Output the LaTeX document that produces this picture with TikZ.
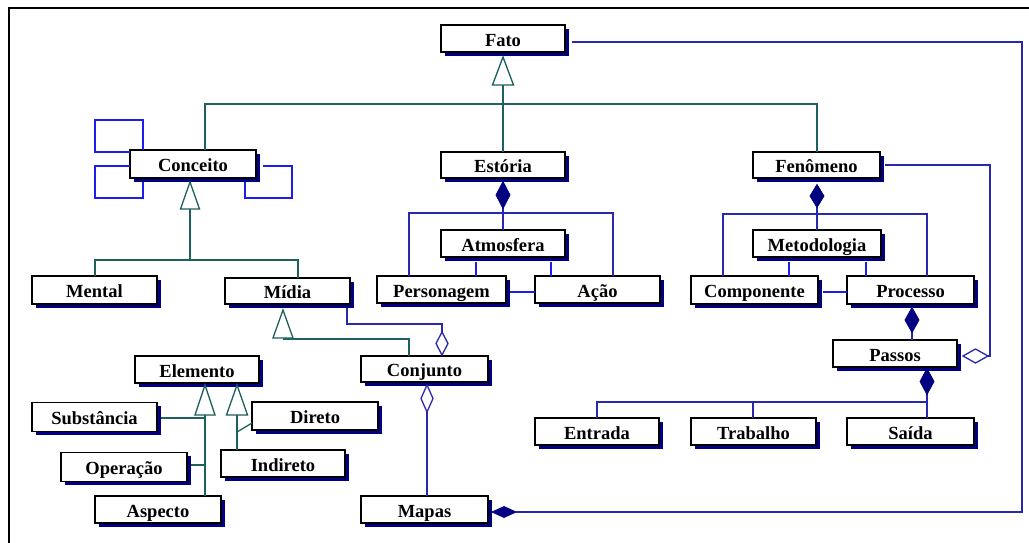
\documentclass[tikz,border=0pt]{standalone}
\usepackage{fontspec}
\setmainfont{Liberation Serif}
\usetikzlibrary{shadows}
\definecolor{teal1}{RGB}{30,95,95}
\definecolor{blu}{RGB}{40,40,175}
\definecolor{bblu}{RGB}{30,30,235}
\definecolor{shad}{RGB}{0,0,128}
\tikzset{
 cls/.style={draw=black, line width=1.1pt, fill=white, inner sep=0pt, outer sep=0pt,
   minimum width=125pt, minimum height=27pt, font=\fontsize{18.5}{19}\selectfont\bfseries,
   text height=17pt, text depth=2pt,
   drop shadow={shadow xshift=3.5pt, shadow yshift=-3.5pt, fill=shad, opacity=1}},
 gen/.style={draw=teal1, line width=1.3pt},
 tri/.style={draw=teal1, line width=1.3pt, fill=white, line join=miter},
 assoc/.style={draw=blu, line width=1.3pt},
 loopl/.style={draw=bblu, line width=1.3pt},
 comp/.style={draw=shad, fill=shad, line width=0.8pt},
 aggr/.style={draw=blu, fill=white, line width=1.3pt},
 frame/.style={draw=black, line width=1.6pt}
}
\begin{document}
\begin{tikzpicture}[x=1pt,y=-1pt]
\useasboundingbox (0,0) rectangle (1029,542);
\fill[white] (0,0) rectangle (1029,542);
\draw[frame] (9,545) -- (9,8) -- (1032,8);

% ---------- nodes ----------
\node[cls, minimum width=124pt] (fato) at (503,38.5) {Fato};
\node[cls, minimum width=124pt, minimum height=26pt] (estoria) at (503,165) {Estória};
\node[cls, minimum width=127pt, minimum height=26pt] (fenomeno) at (816.5,165) {Fenômeno};
\node[cls, minimum width=126pt, minimum height=28pt] (conceito) at (193,164) {Conceito};
\node[cls, minimum height=28pt] (mental) at (94.5,290) {Mental};
\node[cls, minimum height=26pt] (midia) at (287.5,291) {Mídia};
\node[cls, minimum width=124pt] (atmosfera) at (503,243.5) {Atmosfera};
\node[cls, minimum width=129pt] (personagem) at (441.5,289.5) {Personagem};
\node[cls] (acao) at (597.5,289.5) {Ação};
\node[cls, minimum width=128pt] (metodologia) at (817,243.5) {Metodologia};
\node[cls, minimum width=127pt, minimum height=28pt] (componente) at (754.5,290) {Componente};
\node[cls, minimum width=127pt, minimum height=28pt] (processo) at (910.5,290) {Processo};
\node[cls, minimum width=124pt] (passos) at (895,353.5) {Passos};
\node[cls, minimum width=124pt] (entrada) at (597,431.5) {Entrada};
\node[cls] (trabalho) at (753.5,431.5) {Trabalho};
\node[cls, minimum width=127pt] (saida) at (910.5,431.5) {Saída};
\node[cls, minimum width=124pt] (elemento) at (197,369.5) {Elemento};
\node[cls, minimum height=29pt] (substancia) at (94.5,417) {Substância};
\node[cls, minimum width=126pt, minimum height=28pt] (direto) at (315,416) {Direto};
\node[cls, minimum width=126pt, minimum height=29pt] (operacao) at (124,467) {Operação};
\node[cls, minimum width=124pt] (indireto) at (283,463.5) {Indireto};
\node[cls, minimum width=126pt] (aspecto) at (158,509.5) {Aspecto};
\node[cls, minimum width=127pt, minimum height=26pt] (conjunto) at (424.5,369) {Conjunto};
\node[cls, minimum width=127pt] (mapas) at (424.5,509.5) {Mapas};

% ---------- generalization: Fato ----------
\coordinate (tF) at (503,85);
\coordinate (hA) at (205,104);
\coordinate (hB) at (817,104);
\draw[gen] (estoria.north) -- (tF);
\draw[gen] (hA |- conceito.north) -- (hA) -- (hB) -- (hB |- fenomeno.north);
\draw[tri] (503,57) -- (513.5,85) -- (492.5,85) -- cycle;

% ---------- generalization: Conceito ----------
\coordinate (tC) at (190,209);
\coordinate (hC) at (190,260);
\coordinate (hM) at (95,260);
\coordinate (hD) at (298,260);
\draw[gen] (tC) -- (hC);
\draw[gen] (hM |- mental.north) -- (hM) -- (hD) -- (hD |- midia.north);
\draw[tri] (190,182) -- (199.5,209) -- (180.5,209) -- cycle;

% ---------- generalization: Midia -> Conjunto ----------
\coordinate (tMi) at (283,339);
\coordinate (hJ) at (409,339);
\draw[gen] (tMi) -- (hJ) -- (hJ |- conjunto.north);
\draw[tri] (283,310) -- (293,338) -- (273,338) -- cycle;

% ---------- generalization: Elemento ----------
\coordinate (tE1) at (205,415);
\coordinate (tE2) at (237,415);
\coordinate (jS) at (205,418);
\coordinate (jO) at (205,465);
\coordinate (jD) at (237,432);
\draw[gen] (tE1) -- (tE1 |- aspecto.north);
\draw[gen] ([xshift=4pt]substancia.east |- jS) -- (jS);
\draw[gen] ([xshift=4pt]operacao.east |- jO) -- (jO);
\draw[gen] (tE2) -- (tE2 |- indireto.north);
\draw[gen] (jD) -- ([yshift=-7pt]direto.west);
\draw[tri] (205,385) -- (215,415) -- (195,415) -- cycle;
\draw[tri] (237,385) -- (247.5,415) -- (226.5,415) -- cycle;

% ---------- Conceito self-loops ----------
\coordinate (lA1) at (143,120);
\coordinate (lA2) at (95,120);
\coordinate (lA3) at (95,152);
\coordinate (lB1) at (95,166);
\coordinate (lB2) at (95,198);
\coordinate (lB3) at (143,198);
\coordinate (lC1) at (263,166);
\coordinate (lC2) at (292,166);
\coordinate (lC3) at (292,198);
\coordinate (lC4) at (245,198);
\draw[loopl] (lA1 |- conceito.north) -- (lA1) -- (lA2) -- (lA3) -- (conceito.west |- lA3);
\draw[loopl] (conceito.west |- lB1) -- (lB1) -- (lB2) -- (lB3) -- ([yshift=-3.5pt]lB3 |- conceito.south);
\draw[loopl] (lC1) -- (lC2) -- (lC3) -- (lC4) -- ([yshift=-3.5pt]lC4 |- conceito.south);

% ---------- composition: Estoria ----------
\coordinate (jE) at (503,213);
\coordinate (jEL) at (409,213);
\coordinate (jER) at (613,213);
\coordinate (dE) at (503,205);
\draw[assoc] (jE) -- (atmosfera.north);
\draw[assoc] (jEL |- personagem.north) -- (jEL) -- (jER) -- (jER |- acao.north);
\draw[assoc] (dE) -- (jE);
\draw[comp] (503,181.5) -- (510,195) -- (503,208.5) -- (496,195) -- cycle;
\coordinate (k1) at (476,262);
\coordinate (k2) at (551,262);
\coordinate (k3) at (510,292);
\draw[loopl] (k1) -- (k1 |- personagem.north);
\draw[loopl] (k2) -- (k2 |- acao.north);
\draw[loopl] (k3) -- (acao.west |- k3);

% ---------- composition: Fenomeno ----------
\coordinate (jF) at (817,214);
\coordinate (jFL) at (723,214);
\coordinate (jFR) at (927,214);
\coordinate (dF) at (817,205);
\draw[assoc] (jF) -- (metodologia.north);
\draw[assoc] (jFL |- componente.north) -- (jFL) -- (jFR) -- (jFR |- processo.north);
\draw[assoc] (dF) -- (jF);
\draw[comp] (817,184.5) -- (824,196) -- (817,207.5) -- (810,196) -- cycle;
\coordinate (k4) at (789,262);
\coordinate (k5) at (866,262);
\coordinate (k6) at (823,292);
\draw[loopl] (k4) -- (k4 |- componente.north);
\draw[loopl] (k5) -- (k5 |- processo.north);
\draw[loopl] (k6) -- (processo.west |- k6);

% ---------- composition: Processo -> Passos ----------
\coordinate (jP) at (912,330);
\draw[assoc] (jP) -- (jP |- passos.north);
\draw[comp] (912,307.5) -- (919,320) -- (912,332.5) -- (905,320) -- cycle;

% ---------- composition: Passos -> Entrada/Trabalho/Saida ----------
\coordinate (dQ) at (927,390);
\coordinate (jQ) at (927,402);
\coordinate (jQL) at (597,402);
\coordinate (jQM) at (753,402);
\draw[assoc] (dQ) -- (jQ) -- (jQ |- saida.north);
\draw[assoc] (jQL |- entrada.north) -- (jQL) -- (jQ);
\draw[assoc] (jQM) -- (jQM |- trabalho.north);
\draw[comp] (927,368.5) -- (934,381.5) -- (927,394.5) -- (920,381.5) -- cycle;

% ---------- Fato -> Mapas ----------
\coordinate (rF1) at (1022,42);
\coordinate (rF2) at (1022,512);
\coordinate (rF3) at (516,512);
\draw[assoc] ([xshift=7pt]fato.east |- rF1) -- (rF1) -- (rF2) -- (rF3);
\draw[comp] (492,512) -- (504,506.5) -- (516,512) -- (504,517.5) -- cycle;

% ---------- Fenomeno -> Passos ----------
\coordinate (rP1) at (990,165);
\coordinate (rP2) at (990,356);
\coordinate (rP3) at (987,356);
\draw[assoc] ([xshift=5pt]fenomeno.east) -- (rP1) -- (rP2) -- (rP3);
\draw[aggr] (963,356) -- (975.5,349) -- (988,356) -- (975.5,363) -- cycle;

% ---------- Midia -> Conjunto ----------
\coordinate (rM1) at (347,324);
\coordinate (rM2) at (442,324);
\coordinate (rM3) at (442,332);
\draw[assoc] ([yshift=-3.5pt]rM1 |- midia.south) -- (rM1) -- (rM2) -- (rM3);
\draw[aggr] (442,332) -- (448,343.5) -- (442,355) -- (436,343.5) -- cycle;

% ---------- Conjunto -> Mapas ----------
\coordinate (rC) at (427,412);
\draw[assoc] (rC) -- (rC |- mapas.north);
\draw[aggr] (427,385) -- (433,398.5) -- (427,412) -- (421,398.5) -- cycle;
\end{tikzpicture}
\end{document}
